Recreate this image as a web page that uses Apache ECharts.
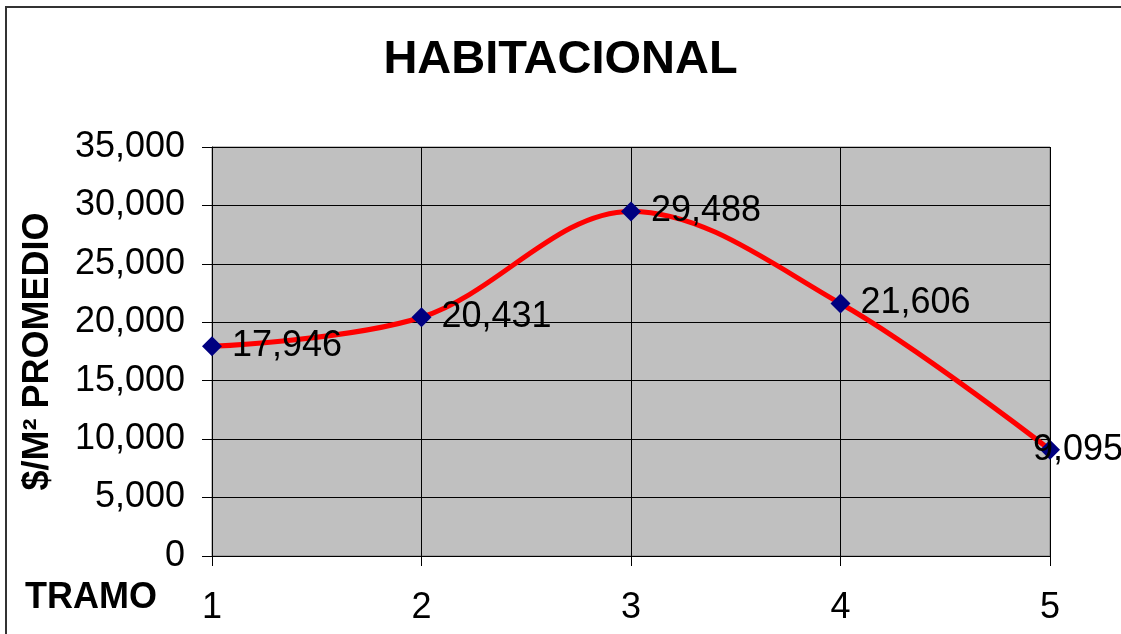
<!DOCTYPE html>
<html>
<head>
<meta charset="utf-8">
<script src="https://cdn.jsdelivr.net/npm/echarts@6/dist/echarts.min.js"></script>
<style>
  html, body { margin: 0; padding: 0; background: #fff; }
  #frame { position: absolute; left: 5px; top: 6px; width: 1130px; height: 640px; border: 2px solid #333; box-sizing: border-box; }
  #chart { position: absolute; left: 0; top: 0; width: 1121px; height: 634px; }
</style>
</head>
<body>
<div id="frame"></div>
<div id="chart"></div>
<script>
// tramos
const tramos = ['1', '2', '3', '4', '5'];
// $/M² promedio
const promedio = [17946, 20431, 29488, 21606, 9095];

const chart = echarts.init(document.getElementById('chart'));
const font = 'Liberation Sans, Arial, sans-serif';

const option = {
  animation: false,
  title: {
    text: 'HABITACIONAL',
    left: 'center',
    top: 32,
    textStyle: { fontFamily: font, fontSize: 47, fontWeight: 'bold', color: '#000' }
  },
  grid: {
    left: 212, right: 71, top: 147, bottom: 78,
    show: true,
    backgroundColor: '#c0c0c0',
    borderColor: '#808080',
    borderWidth: 1
  },
  xAxis: {
    type: 'category',
    data: tramos,
    boundaryGap: false,
    axisLine: { lineStyle: { color: '#000', width: 1 } },
    axisTick: { show: true, length: 10, lineStyle: { color: '#000' }, alignWithLabel: true },
    axisLabel: { fontFamily: font, fontSize: 36, color: '#000', margin: 34 },
    splitLine: { show: true, lineStyle: { color: '#000', width: 1 } }
  },
  yAxis: {
    type: 'value',
    min: 0, max: 35000, interval: 5000,
    name: '$/M² PROMEDIO',
    nameLocation: 'middle',
    nameGap: 156,
    nameRotate: 90,
    nameTextStyle: { fontFamily: font, fontSize: 36, fontWeight: 'bold', color: '#000' },
    axisLine: { show: true, lineStyle: { color: '#000', width: 1 } },
    axisTick: { show: true, length: 10, lineStyle: { color: '#000' } },
    axisLabel: {
      fontFamily: font, fontSize: 36, color: '#000', margin: 27,
      formatter: v => v.toLocaleString('en-US')
    },
    splitLine: { show: true, lineStyle: { color: '#000', width: 1 } }
  },
  graphic: [{
    type: 'text',
    left: 25, top: 580,
    style: { text: 'TRAMO', fontFamily: font, fontSize: 36, fontWeight: 'bold', fill: '#000' }
  }],
  series: [{
    type: 'line',
    data: promedio.map((v, i) => i === promedio.length - 1
      ? { value: v, label: { offset: [-37, 0] } }
      : v),
    smooth: 0.35,
    lineStyle: { color: '#ff0000', width: 5 },
    symbol: 'diamond',
    symbolSize: 20,
    itemStyle: { color: '#000080' },
    label: {
      show: true,
      position: 'right',
      distance: 10,
      fontFamily: font, fontSize: 36, color: '#000',
      formatter: p => p.value.toLocaleString('en-US')
    },
    z: 3
  }]
};
chart.setOption(option);
</script>
</body>
</html>
